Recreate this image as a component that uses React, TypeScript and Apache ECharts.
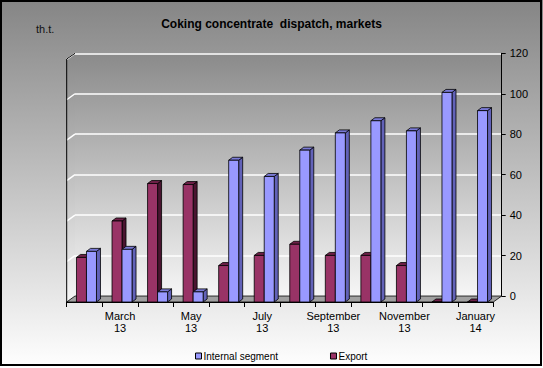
import React, { useEffect, useRef } from "react";
import * as echarts from "echarts";

const categories = [
  "February\n13", "March\n13", "April\n13", "May\n13", "June\n13", "July\n13",
  "August\n13", "September\n13", "October\n13", "November\n13", "December\n13", "January\n14",
];
const exportValues = [22, 40, 58.5, 58, 18, 23, 28.5, 23, 23, 18, 0, 0];
const internalValues = [25, 26, 5, 5, 70, 62, 75, 83.5, 89.5, 84.5, 103.5, 94.5];
const yTicks = [0, 20, 40, 60, 80, 100, 120];
const seriesNames = ["Internal segment", "Export"];

const FONT = "'Liberation Sans', Arial, sans-serif";

// layout constants (back wall / front floor)
const BACK = { left: 75, right: 501.7, top: 53.3, bottom: 296 };
const FRONT = { left: 66.7, right: 493.3, top: 59, bottom: 302 };

function makeRender(offset: number, front: string, side: string, topc: string) {
  return (params: any, api: any) => {
    const i = api.value(0);
    const v = api.value(1);
    const base = api.coord([i, 0]);
    const top = api.coord([i, v]);
    const w = 10, dx = 4, dy = 3;
    const x0 = base[0] + offset;
    const yb = base[1];
    const yt = top[1];
    const st = { stroke: "#000", lineWidth: 0.8 };
    return {
      type: "group",
      children: [
        { type: "polygon", shape: { points: [[x0 + w, yt], [x0 + w + dx, yt - dy], [x0 + w + dx, yb - dy], [x0 + w, yb]] }, style: { fill: side, ...st } },
        { type: "polygon", shape: { points: [[x0, yt], [x0 + dx, yt - dy], [x0 + w + dx, yt - dy], [x0 + w, yt]] }, style: { fill: topc, ...st } },
        { type: "rect", shape: { x: x0, y: yt, width: w, height: Math.max(0, yb - yt) }, style: { fill: front, ...st } },
      ],
    };
  };
}

export default function App() {
  const ref = useRef<HTMLDivElement>(null);
  useEffect(() => {
    if (!ref.current) return;
    const chart = echarts.init(ref.current, null, { renderer: "svg" });
    const scale = (BACK.bottom - BACK.top) / 120;
    const stubs = yTicks.filter((t) => t > 0).map((t) => {
      const y = BACK.bottom - t * scale;
      return {
        type: "line", z: 1,
        shape: { x1: BACK.left, y1: y, x2: FRONT.left, y2: y + (FRONT.bottom - BACK.bottom) },
        style: { stroke: "#ffffff", lineWidth: 1.5 },
      };
    });
    chart.setOption({
      animation: false,
      backgroundColor: new echarts.graphic.LinearGradient(0, 0, 0, 1, [
        { offset: 0, color: "#858585" },
        { offset: 1, color: "#ffffff" },
      ]),
      title: {
        text: "Coking concentrate  dispatch, markets",
        left: "center",
        top: 13,
        textStyle: { fontFamily: FONT, fontSize: 12, fontWeight: "bold", color: "#000" },
      },
      legend: {
        data: seriesNames,
        left: 190,
        top: 346,
        itemWidth: 6,
        itemHeight: 6,
        itemGap: 52,
        icon: "rect",
        itemStyle: { borderColor: "#000", borderWidth: 1 },
        textStyle: { fontFamily: FONT, fontSize: 10, color: "#000", padding: [0, 0, 0, -3] },
      },
      grid: [
        {
          left: BACK.left, right: 543 - BACK.right, top: BACK.top, bottom: 368 - BACK.bottom,
          show: true, borderWidth: 0,
          backgroundColor: new echarts.graphic.LinearGradient(0, 0, 0, 1, [
            { offset: 0, color: "#8a8a8a" },
            { offset: 1, color: "#f6f6f6" },
          ]),
        },
        { left: FRONT.left, right: 543 - FRONT.right, top: FRONT.top, bottom: 368 - FRONT.bottom },
      ],
      xAxis: [
        { type: "category", gridIndex: 0, data: categories, show: false },
        {
          type: "category", gridIndex: 1, data: categories,
          axisLine: { show: true, lineStyle: { color: "#000", width: 1 } },
          axisTick: { show: true, interval: 0, length: 5, lineStyle: { color: "#000" } },
          axisLabel: {
            interval: (index: number) => index % 2 === 1,
            fontFamily: FONT, fontSize: 11, color: "#000", lineHeight: 12, margin: 8,
          },
        },
      ],
      yAxis: [
        {
          type: "value", gridIndex: 0, position: "right", min: 0, max: 120, interval: 20,
          axisLine: { show: true, lineStyle: { color: "#000", width: 1 } },
          axisTick: { show: true, length: 4, lineStyle: { color: "#000" } },
          axisLabel: { fontFamily: FONT, fontSize: 11, color: "#000", margin: 8 },
          splitLine: { show: true, lineStyle: { color: "#ffffff", width: 1.5 } },
        },
        { type: "value", gridIndex: 1, min: 0, max: 120, show: false },
      ],
      graphic: [
        {
          type: "polygon", z: 0,
          shape: { points: [[FRONT.left, FRONT.bottom], [FRONT.left, FRONT.top], [BACK.left, BACK.top], [BACK.left, BACK.bottom]] },
          style: {
            fill: new echarts.graphic.LinearGradient(0, 0, 0, 1, [
              { offset: 0, color: "#8a8a8a" },
              { offset: 1, color: "#f6f6f6" },
            ]),
          },
        },
        ...stubs,
        {
          type: "polygon", z: 1,
          shape: { points: [[FRONT.left, FRONT.bottom], [BACK.left, BACK.bottom], [BACK.right, BACK.bottom], [FRONT.right, FRONT.bottom]] },
          style: { fill: "#a0a0a0", stroke: "#000", lineWidth: 0.8 },
        },
        {
          type: "polyline", z: 1,
          shape: { points: [[FRONT.left, FRONT.bottom], [FRONT.left, FRONT.top], [BACK.left, BACK.top]] },
          style: { stroke: "#000", lineWidth: 1, fill: "none" },
        },
        {
          type: "text", z: 5, left: 36, top: 23,
          style: { text: "th.t.", fontFamily: FONT, fontSize: 11, fill: "#111" },
        },
        {
          type: "rect", z: 10,
          shape: { x: 1, y: 1, width: 540, height: 364 },
          style: { fill: "none", stroke: "#000", lineWidth: 2 },
        },
      ],
      series: [
        {
          name: "Export", type: "custom", xAxisIndex: 1, yAxisIndex: 1, z: 3,
          itemStyle: { color: "#993366" },
          renderItem: makeRender(-8, "#993366", "#4a1430", "#6e2048"),
          data: exportValues.map((v, i) => [i, v]),
        },
        {
          name: "Internal segment", type: "custom", xAxisIndex: 1, yAxisIndex: 1, z: 3,
          itemStyle: { color: "#9999ff" },
          renderItem: makeRender(2, "#9999ff", "#6262b8", "#7a7ad6"),
          data: internalValues.map((v, i) => [i, v]),
        },
      ],
    });
    return () => chart.dispose();
  }, []);
  return <div ref={ref} style={{ position: "absolute", left: 0, top: 0, width: 543, height: 368 }} />;
}
